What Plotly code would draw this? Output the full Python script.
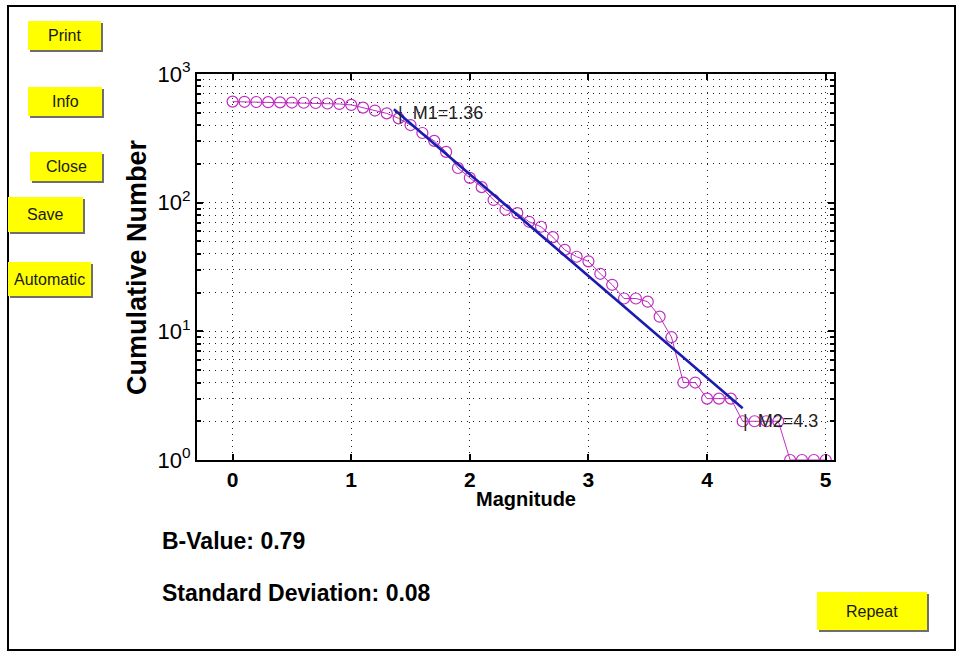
import math
import plotly.graph_objects as go

# ---------------- data ----------------
magnitudes = [0.0, 0.1, 0.2, 0.3, 0.4, 0.5, 0.6, 0.7, 0.8, 0.9,
              1.0, 1.1, 1.2, 1.3, 1.4, 1.5, 1.6, 1.7, 1.8, 1.9,
              2.0, 2.1, 2.2, 2.3, 2.4, 2.5, 2.6, 2.7, 2.8, 2.9,
              3.0, 3.1, 3.2, 3.3, 3.4, 3.5, 3.6, 3.7, 3.8, 3.9,
              4.0, 4.1, 4.2, 4.3, 4.4, 4.5, 4.6, 4.7, 4.8, 4.9, 5.0]
cumulative_number = [610, 608, 606, 604, 602, 600, 598, 595, 590, 585,
                     575, 548, 520, 494, 452, 401, 348, 302, 248, 186,
                     156, 132, 105, 88, 83, 71, 65, 54, 43, 38,
                     35, 28, 23, 18, 18, 17, 13, 9, 4, 4,
                     3, 3, 3, 2, 2, 2, 2, 1, 1, 1, 1]
m1 = 1.36
m2 = 4.3
m1_count = 498
m2_count = 2
fit_a = 3.80
b_value = 0.79
std_dev = 0.08
x_ticks = [0, 1, 2, 3, 4, 5]
y_ticks = [1, 10, 100, 1000]
y_tick_labels = ["10<sup>0</sup>", "10<sup>1</sup>", "10<sup>2</sup>", "10<sup>3</sup>"]
y_minor = [k * d for d in (1, 10, 100) for k in range(2, 10)]
buttons = ["Print", "Info", "Close", "Save", "Automatic", "Repeat"]

# ---------------- layout helpers ----------------
FIG_W, FIG_H = 959, 652
L, R, T, B = 197, 834, 74, 460
PW, PH = R - L, B - T


def px(x):
    return (x - L) / PW


def py(y):
    return (B - y) / PH


FONT = "Liberation Sans, Arial, sans-serif"
MAG = "#c02ec0"
BLUE = "#1b1bb0"

fit_x = [m1, m2]
fit_y = [10 ** (fit_a - b_value * m) for m in fit_x]

fig = go.Figure()
fig.add_trace(go.Scatter(
    x=magnitudes, y=cumulative_number, mode="lines+markers",
    line=dict(color=MAG, width=1),
    marker=dict(symbol="circle-open", size=11, color=MAG, line=dict(width=1.2, color=MAG)),
    hoverinfo="skip", showlegend=False))
fig.add_trace(go.Scatter(
    x=fit_x, y=fit_y, mode="lines",
    line=dict(color=BLUE, width=2.6), hoverinfo="skip", showlegend=False))

grid = dict(showgrid=True, gridcolor="#222222", gridwidth=1, griddash="1px,5px")

fig.update_xaxes(
    range=[-0.3, 5.07], tickmode="array", tickvals=x_ticks,
    ticktext=[str(v) for v in x_ticks],
    showline=True, linecolor="black", linewidth=2, mirror="ticks",
    ticks="inside", ticklen=6, tickwidth=2, tickcolor="black",
    zeroline=False,
    tickfont=dict(family=FONT, size=21, color="black", weight="bold"),
    **grid)
fig.update_yaxes(
    type="log", range=[0, 3], tickmode="array", tickvals=y_ticks, ticktext=y_tick_labels,
    showline=True, linecolor="black", linewidth=2, mirror="ticks",
    ticks="inside", ticklen=6, tickwidth=2, tickcolor="black",
    zeroline=False, tickfont=dict(family=FONT, size=22, color="black"),
    minor=dict(tickmode="array", tickvals=y_minor, ticks="inside", ticklen=4,
               tickwidth=1.5, tickcolor="black", **grid),
    **grid)

shapes = []
annotations = []

# outer frame
shapes.append(dict(type="rect", xref="paper", yref="paper",
                   x0=px(8), x1=px(955), y0=py(6), y1=py(650),
                   line=dict(color="black", width=2), fillcolor="rgba(0,0,0,0)", layer="below"))

button_boxes = [(28, 21, 101, 50), (28, 87, 102, 116), (30, 152, 102, 181),
                (8, 197, 83, 232), (8, 262, 91, 296), (817, 592, 927, 630)]
for label, (x0, y0, x1, y1) in zip(buttons, button_boxes):
    shapes.append(dict(type="rect", xref="paper", yref="paper",
                       x0=px(x0 + 2), x1=px(x1 + 2), y0=py(y0 + 2), y1=py(y1 + 2),
                       line=dict(width=0), fillcolor="#6e6e6e", layer="above"))
    shapes.append(dict(type="rect", xref="paper", yref="paper",
                       x0=px(x0), x1=px(x1), y0=py(y0), y1=py(y1),
                       line=dict(width=0), fillcolor="#ffff00", layer="above"))
    annotations.append(dict(xref="paper", yref="paper", x=px((x0 + x1) / 2), y=py((y0 + y1) / 2),
                            text=label, showarrow=False, xanchor="center", yanchor="middle",
                            font=dict(family=FONT, size=16, color="#1a1a1a")))

# axis titles
annotations.append(dict(xref="paper", yref="paper", x=px(526), y=py(499), text="Magnitude",
                        showarrow=False, xanchor="center", yanchor="middle",
                        font=dict(family=FONT, size=20, color="black", weight="bold")))
annotations.append(dict(xref="paper", yref="paper", x=px(137), y=0.5, text="Cumulative Number",
                        textangle=-90, showarrow=False, xanchor="center", yanchor="middle",
                        font=dict(family=FONT, size=27, color="black", weight="bold")))

# statistics
annotations.append(dict(xref="paper", yref="paper", x=px(160), y=py(541),
                        text=f"B-Value: {b_value:.2f}", showarrow=False,
                        xanchor="left", yanchor="middle",
                        font=dict(family=FONT, size=23, color="black", weight="bold")))
annotations.append(dict(xref="paper", yref="paper", x=px(160), y=py(593),
                        text=f"Standard Deviation: {std_dev:.2f}", showarrow=False,
                        xanchor="left", yanchor="middle",
                        font=dict(family=FONT, size=23, color="black", weight="bold")))

# M1 / M2 markers
annotations.append(dict(xref="x", yref="y", x=m1, y=math.log10(m1_count),
                        text=f"|  M1={m1:g}", showarrow=False, xanchor="left", yanchor="middle",
                        xshift=2, font=dict(family=FONT, size=18, color="#222222")))
annotations.append(dict(xref="x", yref="y", x=m2, y=math.log10(m2_count),
                        text=f"|  M2={m2:g}", showarrow=False, xanchor="left", yanchor="middle",
                        xshift=-2, font=dict(family=FONT, size=18, color="#222222")))

fig.update_layout(
    width=FIG_W, height=FIG_H, autosize=False,
    margin=dict(l=L, r=FIG_W - R, t=T, b=FIG_H - B, pad=0),
    paper_bgcolor="white", plot_bgcolor="white",
    shapes=shapes, annotations=annotations, showlegend=False)

fig.write_html("out.html", config={"displayModeBar": False},
               post_script="document.body.style.margin='0';")
